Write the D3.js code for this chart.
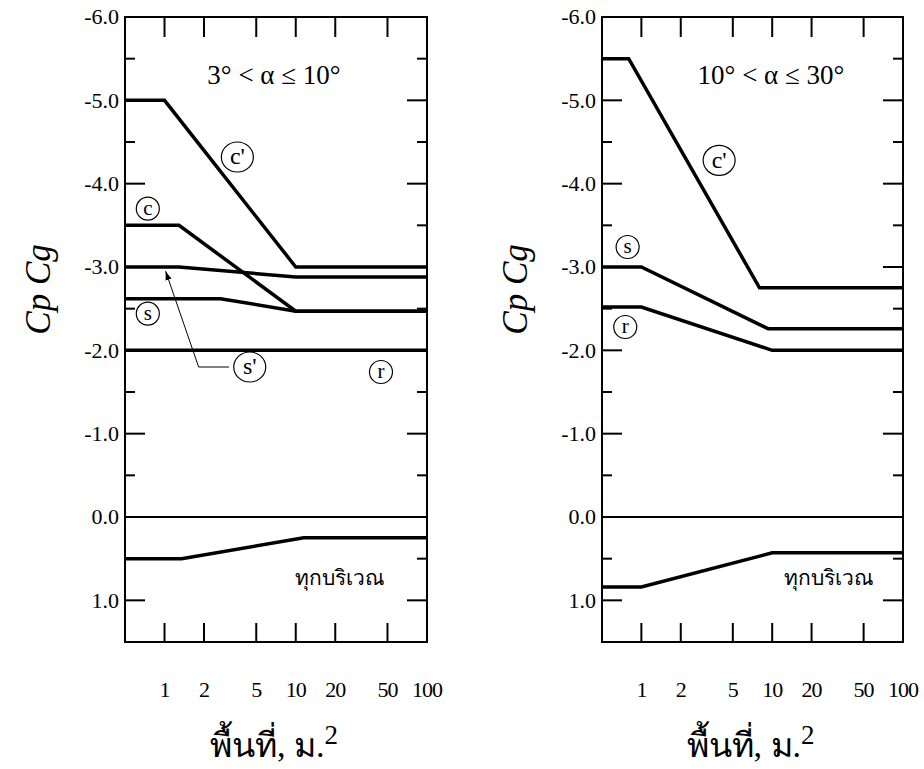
<!DOCTYPE html>
<html>
<head>
<meta charset="utf-8">
<script src="https://cdn.jsdelivr.net/npm/d3@7"></script>
<style>
  body { margin: 0; background: #fff; }
  svg text { font-family: "Liberation Serif", "Times New Roman", serif; fill: #000; }
</style>
</head>
<body>
<svg id="chart" width="924" height="769" font-family="Liberation Serif, serif"></svg>
<script>
const xTicks = [1, 2, 5, 10, 20, 50, 100]
const yTicks = [-6, -5, -4, -3, -2, -1, 0, 1]
const yMinor = [-5.5, -4.5, -3.5, -2.5, -1.5, -0.5, 0.5]

// left panel, 3 < a <= 10
const leftCprime = [[0.5, -5.0], [1, -5.0], [10, -3.0], [100, -3.0]]
const leftC = [[0.5, -3.5], [1.29, -3.5], [10, -2.47], [100, -2.47]]
const leftSprime = [[0.5, -3.0], [1.29, -3.0], [10, -2.88], [100, -2.88]]
const leftS = [[0.5, -2.62], [2.67, -2.62], [10, -2.47], [100, -2.47]]
const leftR = [[0.5, -2.0], [100, -2.0]]
const leftAll = [[0.5, 0.5], [1.35, 0.5], [11.5, 0.25], [100, 0.25]]

// right panel, 10 < a <= 30
const rightCprime = [[0.5, -5.5], [0.8, -5.5], [8, -2.75], [100, -2.75]]
const rightS = [[0.5, -3.0], [1, -3.0], [9.3, -2.26], [100, -2.26]]
const rightR = [[0.5, -2.52], [1, -2.52], [10, -2.0], [100, -2.0]]
const rightAll = [[0.5, 0.84], [1, 0.84], [10, 0.43], [100, 0.43]]

const zeroLine = [[0.5, 0], [100, 0]]

const leftLabels = [
  { t: "c'", x: 3.59, y: -4.32, big: true },
  { t: "c", x: 0.746, y: -3.70 },
  { t: "s", x: 0.746, y: -2.44 },
  { t: "s'", x: 4.46, y: -1.80, big: true },
  { t: "r", x: 44.6, y: -1.74 },
]
const rightLabels = [
  { t: "c'", x: 3.93, y: -4.28, big: true },
  { t: "s", x: 0.785, y: -3.24 },
  { t: "r", x: 0.753, y: -2.28 },
]

const panels = [
  {
    left: 125, right: 427, title: "3° < α ≤ 10°", titleX: 274,
    series: [leftCprime, leftC, leftSprime, leftS, leftR, leftAll],
    labels: leftLabels,
    allLabel: { x: 21.7, y: 0.81 },
    arrow: [[3.1, -1.8], [1.82, -1.8], [1.02, -2.95]]
  },
  {
    left: 602, right: 903, title: "10° < α ≤ 30°", titleX: 771,
    series: [rightCprime, rightS, rightR, rightAll],
    labels: rightLabels,
    allLabel: { x: 27, y: 0.82 },
    arrow: null
  }
]

const svg = d3.select("#chart")
const plotTop = 17, plotBottom = 642

svg.append("defs").append("marker")
  .attr("id", "tip")
  .attr("viewBox", "0 0 10 10")
  .attr("refX", 10).attr("refY", 5)
  .attr("markerWidth", 9).attr("markerHeight", 9)
  .attr("markerUnits", "userSpaceOnUse")
  .attr("orient", "auto")
  .append("path").attr("d", "M0,1.5 L10,5 L0,8.5 Z").attr("fill", "#000")

panels.forEach(p => {
  const x = d3.scaleLog().domain([0.5, 100]).range([p.left, p.right])
  const y = d3.scaleLinear().domain([-6, 1.5]).range([plotTop, plotBottom])
  const g = svg.append("g")
  const line = d3.line().x(d => x(d[0])).y(d => y(d[1]))

  // frame
  g.append("rect")
    .attr("x", p.left).attr("y", plotTop)
    .attr("width", p.right - p.left).attr("height", plotBottom - plotTop)
    .attr("fill", "none").attr("stroke", "#000").attr("stroke-width", 2)

  // ticks, inward on all sides
  const ticks = g.append("g").attr("stroke", "#000").attr("stroke-width", 2)
  yTicks.forEach(v => {
    ticks.append("line").attr("x1", p.left).attr("x2", p.left + 20).attr("y1", y(v)).attr("y2", y(v))
    ticks.append("line").attr("x1", p.right).attr("x2", p.right - 20).attr("y1", y(v)).attr("y2", y(v))
  })
  yMinor.forEach(v => {
    ticks.append("line").attr("x1", p.left).attr("x2", p.left + 10).attr("y1", y(v)).attr("y2", y(v))
    ticks.append("line").attr("x1", p.right).attr("x2", p.right - 10).attr("y1", y(v)).attr("y2", y(v))
  })
  xTicks.filter(v => v < 100).forEach(v => {
    ticks.append("line").attr("x1", x(v)).attr("x2", x(v)).attr("y1", plotTop).attr("y2", plotTop + 20)
    ticks.append("line").attr("x1", x(v)).attr("x2", x(v)).attr("y1", plotBottom).attr("y2", plotBottom - 19)
  })

  // tick labels (plain hyphen as in the print)
  g.selectAll("text.ylab").data(yTicks).join("text")
    .attr("class", "ylab")
    .attr("x", p.left - 6).attr("y", d => y(d))
    .attr("dy", "0.33em")
    .attr("text-anchor", "end")
    .attr("font-size", 22)
    .text(d => d.toFixed(1))

  g.selectAll("text.xlab").data(xTicks).join("text")
    .attr("class", "xlab")
    .attr("x", d => x(d)).attr("y", 697)
    .attr("text-anchor", "middle")
    .attr("font-size", 22)
    .attr("letter-spacing", -1)
    .text(d => d)

  // zero line thinner
  g.append("path").attr("d", line(zeroLine))
    .attr("fill", "none").attr("stroke", "#000").attr("stroke-width", 2)

  g.selectAll("path.series").data(p.series).join("path")
    .attr("class", "series")
    .attr("d", line)
    .attr("fill", "none").attr("stroke", "#000")
    .attr("stroke-width", 3.5)
    .attr("stroke-linejoin", "miter")

  // circled zone labels
  const lab = g.selectAll("g.lab").data(p.labels).join("g")
    .attr("class", "lab")
    .attr("transform", d => `translate(${x(d.x)},${y(d.y)})`)
  lab.append("ellipse")
    .attr("rx", d => d.big ? 16 : 11.5)
    .attr("ry", d => d.big ? 15 : 11.5)
    .attr("fill", "#fff").attr("stroke", "#000").attr("stroke-width", 1.2)
  lab.append("text")
    .attr("text-anchor", "middle").attr("dy", "0.3em")
    .attr("font-size", d => d.big ? 24 : 21)
    .text(d => d.t)

  if (p.arrow) {
    g.append("path")
      .attr("d", line(p.arrow))
      .attr("fill", "none").attr("stroke", "#000").attr("stroke-width", 1)
      .attr("marker-end", "url(#tip)")
  }

  g.append("text")
    .attr("x", x(p.allLabel.x)).attr("y", y(p.allLabel.y))
    .attr("text-anchor", "middle")
    .attr("font-size", 21)
    .text("ทุกบริเวณ")

  // panel title
  g.append("text")
    .attr("x", p.titleX).attr("y", 84)
    .attr("text-anchor", "middle")
    .attr("font-size", 27)
    .text(p.title)

  // axis titles
  g.append("text")
    .attr("transform", `translate(${p.left - 75},${(plotTop + plotBottom) / 2 - 40}) rotate(-90)`)
    .attr("text-anchor", "middle")
    .attr("font-style", "italic")
    .attr("font-size", 35)
    .text("Cp Cg")

  const xt = g.append("text")
    .attr("x", (p.left + p.right) / 2 - 2).attr("y", 757)
    .attr("text-anchor", "middle")
    .attr("font-size", 34)
  xt.append("tspan").text("พื้นที่, ม.")
  xt.append("tspan").attr("dy", -13).attr("font-size", 27).text("2")
})
</script>
</body>
</html>
